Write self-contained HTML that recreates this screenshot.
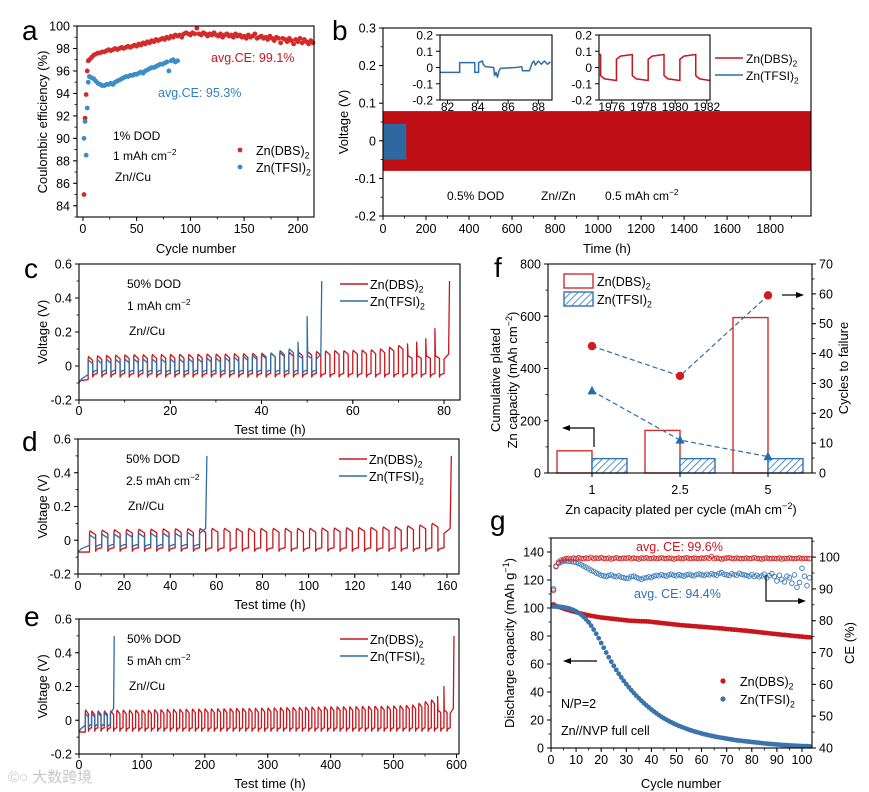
<!DOCTYPE html>
<html><head><meta charset="utf-8"><title>Zn electrolyte figure</title>
<style>
html,body{margin:0;padding:0;background:#fff;}
svg{display:block;font-family:"Liberation Sans","Noto Sans CJK SC",sans-serif;}
</style></head>
<body>
<svg id="fig" width="869" height="792" viewBox="0 0 869 792" xmlns="http://www.w3.org/2000/svg">
<defs>
<pattern id="hatch" patternUnits="userSpaceOnUse" width="5" height="5" patternTransform="rotate(45)">
<rect width="5" height="5" fill="#fff"/>
<line x1="0" y1="0" x2="0" y2="5" stroke="#2e75b6" stroke-width="1.6"/>
</pattern>
</defs>
<text x="8" y="782" font-size="15" fill="#c8c8c8">©○ 大数跨境</text>
</svg>
<script>
// ---------------- DATA ----------------
// panel a
const aDbsEarlyCycles=[1,2,3,4,5];
const aDbsEarly=[85,91.8,93.9,96,96.9];
const aDbsStart=6, aDbsStep=2;
const aDbsCE=[97.0,97.2,97.4,97.5,97.6,97.6,97.7,97.7,97.8,97.9,97.8,97.9,98.0,97.9,98.0,98.1,98.0,98.1,98.2,98.1,98.2,98.3,98.2,98.4,98.3,98.5,98.4,98.6,98.5,98.7,98.6,98.8,98.7,98.8,98.9,98.8,99.0,98.9,99.1,99.0,99.2,99.1,99.2,99.0,99.3,99.4,99.3,99.2,99.4,99.3,99.8,99.3,99.2,99.4,99.3,99.1,99.3,99.2,99.4,99.2,99.1,99.3,99.0,99.2,99.3,99.1,99.2,99.0,99.3,99.1,99.2,99.0,99.1,98.9,99.2,99.0,99.1,99.3,98.9,99.0,99.1,98.9,99.0,98.8,99.1,98.9,98.7,99.0,98.9,98.5,98.9,98.8,98.6,98.9,98.7,98.4,98.8,98.6,98.9,98.5,98.8,98.6,98.4,98.7,98.5];
const aTfsiEarlyCycles=[1,2,3,4,5];
const aTfsiEarly=[90,91.5,88.5,92.7,95.0];
const aTfsiStart=6, aTfsiStep=2;
const aTfsiCE=[95.5,95.4,95.3,95.1,94.9,94.8,94.7,94.7,94.8,94.8,94.9,94.8,95.0,95.1,95.2,95.3,95.4,95.5,95.5,95.6,95.6,95.7,95.7,95.8,95.9,95.8,96.0,96.1,96.2,96.3,96.3,96.4,96.5,96.6,96.6,96.7,96.8,96.0,96.9,97.0,96.8,96.9];
const aXTicks=[0,50,100,150,200];
const aYTicks=[84,86,88,90,92,94,96,98,100];
// panel b
const bDbsRange=[-0.08,0.079]; const bDbsEnd=1990;
const bTfsiRange=[-0.05,0.045]; const bTfsiEnd=108;
const bXTicks=[0,200,400,600,800,1000,1200,1400,1600,1800];
const bYTicks=[-0.2,-0.1,0,0.1,0.2,0.3];
const bYLabels=['-0.2','-0.1','0','0.1','0.2','0.3'];
const inset1T=[81.5,82.8,82.8,83.8,83.8,84.05,84.05,84.3,84.35,84.45,84.5,85.05,85.1,85.2,85.3,85.4,85.5,86.5,86.9,86.95,87.4,87.45,87.6,87.7,87.8,88.0,88.2,88.4,88.6,88.8];
const inset1V=[-0.03,-0.03,0.03,0.03,-0.03,-0.03,0.03,0.04,0.02,0.01,0.005,0.0,-0.05,-0.03,-0.06,-0.02,-0.005,0.0,0.005,-0.02,-0.02,-0.01,0.03,0.04,0.015,0.04,0.02,0.04,0.02,0.035];
const inset2Switch=[1975.3,1976.3,1977.3,1978.3,1979.3,1980.3,1981.3];
const inset1XTicks=[82,84,86,88];
const inset2XTicks=[1976,1978,1980,1982];
const insetYTicks=[-0.2,-0.1,0,0.1,0.2];
const insetYLabels=['-0.2','-0.1','0','0.1','0.2'];
// panel c
const cDbsPeaks=[0.055,0.06,0.062,0.064,0.065,0.066,0.066,0.067,0.067,0.068,0.068,0.068,0.069,0.07,0.07,0.07,0.072,0.072,0.074,0.075,0.076,0.078,0.08,0.082,0.085,0.085,0.088,0.09,0.09,0.092,0.093,0.095,0.1,0.11,0.12,0.13,0.14,0.16,0.22,0.5];
const cTfsiPeaks=[0.035,0.035,0.038,0.038,0.04,0.04,0.04,0.04,0.04,0.04,0.04,0.042,0.042,0.045,0.045,0.048,0.05,0.055,0.06,0.065,0.075,0.09,0.1,0.14,0.29,0.5];
const cXTicks=[0,20,40,60,80];
// panel d
const dDbsPeaks=[0.055,0.06,0.062,0.064,0.065,0.066,0.067,0.068,0.068,0.069,0.07,0.07,0.07,0.07,0.07,0.07,0.07,0.07,0.07,0.072,0.072,0.074,0.075,0.076,0.078,0.08,0.085,0.09,0.1,0.5];
const dTfsiPeaks=[0.03,0.035,0.035,0.04,0.04,0.04,0.04,0.04,0.045,0.5];
const dXTicks=[0,20,40,60,80,100,120,140,160];
// panel e
const eDbsPeaks=[0.06,0.055,0.055,0.055,0.055,0.06,0.06,0.06,0.06,0.06,0.06,0.062,0.062,0.064,0.064,0.065,0.065,0.066,0.066,0.067,0.067,0.068,0.068,0.069,0.07,0.07,0.07,0.071,0.072,0.072,0.073,0.074,0.075,0.075,0.076,0.077,0.078,0.078,0.079,0.08,0.08,0.08,0.08,0.081,0.082,0.082,0.083,0.083,0.084,0.085,0.086,0.088,0.09,0.1,0.11,0.12,0.14,0.2,0.5];
const eTfsiPeaks=[0.04,0.04,0.045,0.045,0.5];
const eXTicks=[0,100,200,300,400,500,600];
const vYTicks=[-0.2,0,0.2,0.4,0.6];
const vYLabels=['-0.2','0','0.2','0.4','0.6'];
// panel f
const fCategories=['1','2.5','5'];
const fDbsCum=[85,163,595];
const fTfsiCum=[55,55,55];
const fDbsCycles=[42.5,32.5,59.5];
const fTfsiCycles=[27.5,11,5.5];
const fLeftTicks=[0,200,400,600,800];
const fRightTicks=[0,10,20,30,40,50,60,70];
// panel g
const gCapDbs=[102.5,101.5,100.8,100.2,99.6,99.0,98.5,98.0,97.5,97.0,96.5,96.0,95.6,95.2,94.8,94.4,94.1,93.8,93.5,93.2,93.0,92.8,92.6,92.4,92.2,92.0,91.8,91.6,91.4,91.2,91.0,90.9,90.8,90.7,90.6,90.5,90.5,90.4,90.3,90.1,89.9,89.7,89.5,89.3,89.1,88.9,88.7,88.5,88.3,88.1,87.9,87.7,87.6,87.4,87.3,87.1,87.0,86.9,86.7,86.6,86.4,86.3,86.1,86.0,85.8,85.7,85.5,85.4,85.2,85.0,84.9,84.7,84.5,84.4,84.2,84.0,83.9,83.7,83.5,83.3,83.1,82.9,82.7,82.5,82.3,82.1,81.9,81.7,81.5,81.3,81.1,80.9,80.8,80.6,80.4,80.2,80.0,79.9,79.7,79.5,79.4,79.2,79.1,79.0,78.9];
const gCapTfsi=[101,101,101,100.8,100.5,100.2,99.8,99.2,98.5,97.6,96.5,95.2,93.6,91.8,89.8,87.4,84.6,81.6,78.4,75.0,71.6,68.2,64.9,61.7,58.7,55.8,53.0,50.4,47.9,45.6,43.4,41.3,39.3,37.4,35.6,33.8,32.1,30.5,29.0,27.5,26.1,24.8,23.5,22.3,21.2,20.2,19.2,18.3,17.4,16.6,15.8,15.1,14.4,13.7,13.1,12.5,11.9,11.4,10.9,10.4,9.9,9.5,9.1,8.7,8.3,7.9,7.6,7.3,7.0,6.7,6.4,6.1,5.8,5.5,5.3,5.1,4.9,4.7,4.5,4.3,4.1,3.9,3.7,3.5,3.3,3.1,2.9,2.8,2.6,2.5,2.4,2.2,2.1,2.0,1.9,1.8,1.7,1.6,1.5,1.4,1.3,1.3,1.2,1.2,1.1];
const gCeDbs=[89.6,97.2,98.4,99.0,99.3,99.5,99.6,99.4,99.7,99.5,99.8,99.6,99.5,99.7,99.6,99.9,99.5,99.7,99.6,99.8,99.6,99.5,99.7,99.4,99.6,99.8,99.6,99.5,99.7,99.6,99.8,99.5,99.7,99.6,99.4,99.7,99.6,99.8,99.5,99.6,99.7,99.5,99.6,99.8,99.6,99.5,99.7,99.6,99.4,99.6,99.7,99.5,99.6,99.8,99.6,99.5,99.7,99.6,99.5,99.7,99.6,99.8,99.6,100.2,99.5,99.7,99.6,99.4,99.6,99.7,99.8,99.6,99.5,99.7,99.6,99.5,99.6,99.7,99.5,99.6,99.8,99.6,99.5,99.4,99.6,99.7,99.5,99.6,99.6,99.5,99.7,99.4,99.6,99.5,99.7,99.6,99.5,99.6,99.7,99.5,99.6,99.6,99.5,99.7,99.6];
const gCeTfsi=[90.0,97.0,98.0,98.4,98.7,98.8,98.7,98.6,98.5,98.3,98.0,97.6,97.2,96.8,96.3,95.9,95.5,95.0,94.7,94.3,94.1,93.9,94.2,94.4,94.0,93.8,94.1,93.7,93.5,93.3,93.4,93.9,94.0,93.6,93.3,93.0,93.4,93.5,93.8,93.6,94.0,94.3,94.1,94.5,94.2,94.0,94.4,94.6,94.3,94.1,94.5,94.2,94.0,94.4,94.6,94.3,94.1,94.5,94.7,94.4,94.2,94.6,94.4,94.8,94.5,94.3,94.9,95.1,94.6,94.4,94.2,94.8,94.5,94.3,94.9,94.6,94.4,94.2,94.0,94.5,93.9,94.3,93.8,94.1,94.6,93.5,94.2,94.8,93.9,92.5,94.3,93.0,92.2,94.0,93.5,91.8,94.4,90.5,92.0,96.5,94.0,91.0,93.5,95.0,92.0];
const gXTicks=[0,10,20,30,40,50,60,70,80,90,100];
const gLeftTicks=[0,20,40,60,80,100,120,140];
const gRightTicks=[40,50,60,70,80,90,100];

// ---------------- DRAWING ----------------
const NS='http://www.w3.org/2000/svg';
const svg=document.getElementById('fig');
const RED='#c8161d', BLUE='#2e6ea6';
function mk(tag,attrs,name,parent){
  const el=document.createElementNS(NS,tag);
  for(const k in attrs) el.setAttribute(k,attrs[k]);
  
  
  (parent||svg).appendChild(el);
  return el;
}
function lin(d0,d1,r0,r1){return v=>r0+(v-d0)*(r1-r0)/(d1-d0);}
function text(x,y,s,o,name){
  o=o||{};const size=o.size||12.5;
  const at={x:x,y:y,'font-size':size,'text-anchor':o.anchor||'start',fill:o.fill||'#000'};
  if(o.rot) at.transform='rotate(-90 '+x+' '+y+')';
  const t=mk('text',at,name);
  const parts=s.split(/(_\{[^}]*\}|\^\{[^}]*\})/);
  let shift=0;
  parts.forEach(p=>{
    if(!p) return;
    const ts=document.createElementNS(NS,'tspan');
    if(p[0]==='_'||p[0]==='^'){
      const d=p[0]==='_'?3.5:-5;
      ts.setAttribute('dy',d);ts.setAttribute('font-size',size*0.7);
      ts.textContent=p.slice(2,-1);shift=d;
    } else {
      if(shift){ts.setAttribute('dy',-shift);shift=0;}
      ts.textContent=p;
    }
    t.appendChild(ts);
  });
  return t;
}
function frame(b,name){mk('rect',{x:b.x0,y:b.y0,width:b.x1-b.x0,height:b.y1-b.y0,fill:'none',stroke:'#000','stroke-width':1.1},name);}
function xAxis(b,sc,ticks,labels,minorStep,ly,name,size){
  ticks.forEach((t,i)=>{const x=sc(t);
    mk('line',{x1:x,x2:x,y1:b.y1,y2:b.y1+4,stroke:'#000','stroke-width':1},name+'-tick');
    text(x,ly,String(labels[i]),{anchor:'middle',size:size||12.5},name+'-tick-label');});
  if(minorStep){const hi=ticks[ticks.length-1];
    for(let t=ticks[0]-minorStep*20;t<=hi+minorStep*20;t+=minorStep){const x=sc(t);
      if(x<b.x0-0.1||x>b.x1+0.1) continue;
      mk('line',{x1:x,x2:x,y1:b.y1,y2:b.y1+2.5,stroke:'#000','stroke-width':0.8},name+'-minor-tick');}}
}
function yAxis(b,sc,ticks,labels,minorStep,name,right,size){
  const x0=right?b.x1:b.x0, dir=right?1:-1;
  ticks.forEach((t,i)=>{const y=sc(t);
    mk('line',{x1:x0,x2:x0+4*dir,y1:y,y2:y,stroke:'#000','stroke-width':1},name+'-tick');
    text(x0+7*dir,y+4.5,String(labels[i]),{anchor:right?'start':'end',size:size||12.5},name+'-tick-label');});
  if(minorStep){for(let t=ticks[0]-minorStep*20;t<=ticks[ticks.length-1]+minorStep*20;t+=minorStep){const y=sc(t);
      if(y<b.y0-0.1||y>b.y1+0.1) continue;
      mk('line',{x1:x0,x2:x0+2.5*dir,y1:y,y2:y,stroke:'#000','stroke-width':0.8},name+'-minor-tick');}}
}
function poly(pts,stroke,name,sw){return mk('polyline',{points:pts.map(p=>p[0].toFixed(2)+','+p[1].toFixed(2)).join(' '),fill:'none',stroke:stroke,'stroke-width':sw||1.2,'stroke-linejoin':'round'},name);}
function letter(x,y,s){text(x,y,s,{size:28},'panel-letter-'+s);}

// ===== Panel a =====
(function(){
  const b={x0:77,x1:314,y0:26,y1:217};
  const xs=lin(-5.5,215,b.x0,b.x1), ys=lin(83,100,b.y1,b.y0);
  letter(22,40,'a');
  const dot=(c,v,col,nm)=>{if(xs(c)>b.x1-1) return; mk('circle',{cx:xs(c),cy:ys(v),r:2.4,fill:col},nm);};
  aDbsEarlyCycles.forEach((c,i)=>dot(c,aDbsEarly[i],'#d42a2a','dbs-ce-point'));
  aDbsCE.forEach((v,i)=>dot(aDbsStart+i*aDbsStep,v,'#d42a2a','dbs-ce-point'));
  aTfsiEarlyCycles.forEach((c,i)=>dot(c,aTfsiEarly[i],'#3c8cc8','tfsi-ce-point'));
  aTfsiCE.forEach((v,i)=>dot(aTfsiStart+i*aTfsiStep,v,'#3c8cc8','tfsi-ce-point'));
  frame(b,'panel-a-frame');
  xAxis(b,xs,aXTicks,aXTicks,25,233,'panel-a-x-axis');
  yAxis(b,ys,aYTicks,aYTicks,1,'panel-a-y-axis');
  text(196,253,'Cycle number',{anchor:'middle',size:13},'panel-a-x-title');
  text(47,122,'Coulombic efficiency (%)',{anchor:'middle',size:13,rot:true},'panel-a-y-title');
  text(211,62,'avg.CE: 99.1%',{fill:RED,size:12.5},'avg-ce-dbs');
  text(158,97,'avg.CE: 95.3%',{fill:'#2f7fc0',size:12.5},'avg-ce-tfsi');
  text(113,140,'1% DOD',{size:12},'dod-label');
  text(113,160,'1 mAh cm^{−2}',{size:12},'capacity-label');
  text(115,181,'Zn//Cu',{size:12},'cell-label');
  mk('circle',{cx:240,cy:150,r:2.4,fill:'#d42a2a'},'legend-dbs-marker');
  mk('circle',{cx:240,cy:167,r:2.4,fill:'#3c8cc8'},'legend-tfsi-marker');
  text(256,155,'Zn(DBS)_{2}',{size:12.5},'legend-dbs');
  text(256,172,'Zn(TFSI)_{2}',{size:12.5},'legend-tfsi');
})();

// ===== Panel b =====
(function(){
  const b={x0:383,x1:811,y0:28,y1:216};
  const xs=lin(0,1990,b.x0,b.x1), ys=lin(-0.2,0.3,b.y1,b.y0);
  letter(332,40,'b');
  mk('rect',{x:xs(0),y:ys(bDbsRange[1]),width:xs(bDbsEnd)-xs(0),height:ys(bDbsRange[0])-ys(bDbsRange[1]),fill:'#c00f14'},'dbs-voltage-band');
  mk('rect',{x:xs(0),y:ys(bTfsiRange[1]),width:xs(bTfsiEnd)-xs(0),height:ys(bTfsiRange[0])-ys(bTfsiRange[1]),fill:'#2d68a0'},'tfsi-voltage-band');
  frame(b,'panel-b-frame');
  xAxis(b,xs,bXTicks,bXTicks,100,233,'panel-b-x-axis');
  yAxis(b,ys,bYTicks,bYLabels,0.05,'panel-b-y-axis');
  text(607,253,'Time (h)',{anchor:'middle',size:13},'panel-b-x-title');
  text(348,122,'Voltage (V)',{anchor:'middle',size:13,rot:true},'panel-b-y-title');
  text(447,200,'0.5% DOD',{size:12},'dod-label');
  text(541,200,'Zn//Zn',{size:12},'cell-label');
  text(605,200,'0.5 mAh cm^{−2}',{size:12},'capacity-label');
  const i1={x0:440,x1:552,y0:35,y1:100};
  mk('rect',{x:i1.x0,y:i1.y0,width:i1.x1-i1.x0,height:i1.y1-i1.y0,fill:'#fff'},'inset-tfsi-bg');
  const ix1=lin(81.5,88.9,i1.x0,i1.x1), iy=lin(-0.2,0.2,i1.y1,i1.y0);
  poly(inset1T.map((t,i)=>[ix1(t),iy(inset1V[i])]),BLUE,'inset-tfsi-line',1.5);
  frame(i1,'inset-tfsi-frame');
  xAxis(i1,ix1,inset1XTicks,inset1XTicks,0,111,'inset-tfsi-x-axis',12);
  yAxis(i1,iy,insetYTicks,insetYLabels,0,'inset-tfsi-y-axis',false,12);
  const i2={x0:599,x1:710,y0:35,y1:100};
  mk('rect',{x:i2.x0,y:i2.y0,width:i2.x1-i2.x0,height:i2.y1-i2.y0,fill:'#fff'},'inset-dbs-bg');
  const ix2=lin(1975.2,1982.2,i2.x0,i2.x1);
  const pts=[[ix2(1975.2),iy(0.08)]];
  let pos=true;
  inset2Switch.forEach(sw=>{
    if(pos){pts.push([ix2(sw),iy(0.08)]);pts.push([ix2(sw),iy(-0.05)]);pts.push([ix2(sw+0.25),iy(-0.07)]);}
    else {pts.push([ix2(sw),iy(-0.08)]);pts.push([ix2(sw),iy(0.05)]);pts.push([ix2(sw+0.25),iy(0.07)]);}
    pos=!pos;
  });
  pts.push([ix2(1982.2),iy(-0.08)]);
  poly(pts,RED,'inset-dbs-line',1.5);
  frame(i2,'inset-dbs-frame');
  xAxis(i2,ix2,inset2XTicks,inset2XTicks,0,111,'inset-dbs-x-axis',12);
  yAxis(i2,iy,insetYTicks,insetYLabels,0,'inset-dbs-y-axis',false,12);
  mk('line',{x1:715,x2:743,y1:58,y2:58,stroke:RED,'stroke-width':1.6},'legend-dbs-line');
  mk('line',{x1:715,x2:743,y1:75,y2:75,stroke:BLUE,'stroke-width':1.6},'legend-tfsi-line');
  text(746,63,'Zn(DBS)_{2}',{size:12},'legend-dbs');
  text(746,80,'Zn(TFSI)_{2}',{size:12},'legend-tfsi');
})();

// ===== Voltage profile panels c, d, e =====
function profile(xs,ys,t0,P,peaks,plate,init0,init1){
  const pts=[[xs(0),ys(init0)],[xs(t0*0.3),ys((init0+init1)/2)],[xs(t0),ys(init1)]];
  const n=peaks.length;
  for(let i=0;i<n;i++){
    const t=t0+i*P, pk=peaks[i];
    if(i===n-1){
      pts.push([xs(t),ys(0.04)]);pts.push([xs(t+0.5*P),ys(0.07)]);pts.push([xs(t+0.6*P),ys(pk)]);break;
    }
    if(pk>0.12){
      pts.push([xs(t),ys(pk)]);pts.push([xs(t+0.06*P),ys(0.06)]);pts.push([xs(t+0.5*P),ys(0.045)]);
    } else {
      pts.push([xs(t),ys(pk-0.012)]);pts.push([xs(t+0.05*P),ys(pk)]);
      pts.push([xs(t+0.25*P),ys(pk-0.01)]);pts.push([xs(t+0.5*P),ys(pk-0.022)]);
    }
    pts.push([xs(t+0.5*P),ys(plate)]);
    pts.push([xs(t+0.6*P),ys(plate+0.012)]);pts.push([xs(t+0.8*P),ys(plate+0.018)]);pts.push([xs(t+P),ys(plate+0.02)]);
  }
  return pts;
}
function vPanel(cfg){
  const b=cfg.b;
  const xs=lin(0,cfg.xmax,b.x0,b.x1), ys=lin(-0.2,0.6,b.y1,b.y0);
  letter(cfg.lx,cfg.ly,cfg.letter);
  poly(profile(xs,ys,cfg.t0,cfg.P,cfg.dbs,-0.065,cfg.di0,cfg.di1),RED,'dbs-voltage-line',1.3);
  poly(profile(xs,ys,cfg.t0,cfg.P,cfg.tfsi,-0.045,cfg.ti0,cfg.ti1),BLUE,'tfsi-voltage-line',1.3);
  frame(b,'panel-'+cfg.letter+'-frame');
  xAxis(b,xs,cfg.xt,cfg.xt,cfg.xminor,cfg.xly,'panel-'+cfg.letter+'-x-axis');
  yAxis(b,ys,vYTicks,vYLabels,0.1,'panel-'+cfg.letter+'-y-axis');
  text(270,cfg.xly+19,'Test time (h)',{anchor:'middle',size:13},'panel-'+cfg.letter+'-x-title');
  text(47,(b.y0+b.y1)/2,'Voltage (V)',{anchor:'middle',size:13,rot:true},'panel-'+cfg.letter+'-y-title');
  text(b.x0+48,b.y0+24,'50% DOD',{size:12},'dod-label');
  text(b.x0+48,b.y0+46,cfg.cap,{size:12},'capacity-label');
  text(b.x0+50,b.y0+71,'Zn//Cu',{size:12},'cell-label');
  mk('line',{x1:b.x0+261,x2:b.x0+289,y1:b.y0+20,y2:b.y0+20,stroke:RED,'stroke-width':1.6},'legend-dbs-line');
  mk('line',{x1:b.x0+261,x2:b.x0+289,y1:b.y0+37,y2:b.y0+37,stroke:BLUE,'stroke-width':1.6},'legend-tfsi-line');
  text(b.x0+291,b.y0+25,'Zn(DBS)_{2}',{size:12.5},'legend-dbs');
  text(b.x0+291,b.y0+42,'Zn(TFSI)_{2}',{size:12.5},'legend-tfsi');
}
vPanel({letter:'c',b:{x0:79,x1:460,y0:264,y1:400},xmax:83.5,t0:2,P:2,dbs:cDbsPeaks,tfsi:cTfsiPeaks,di0:-0.09,di1:-0.08,ti0:-0.1,ti1:-0.05,xt:cXTicks,xminor:10,xly:415,lx:24,ly:278,cap:'1 mAh cm^{−2}'});
vPanel({letter:'d',b:{x0:78,x1:459,y0:439,y1:574},xmax:165.2,t0:5,P:5.3,dbs:dDbsPeaks,tfsi:dTfsiPeaks,di0:-0.07,di1:-0.07,ti0:-0.07,ti1:-0.03,xt:dXTicks,xminor:10,xly:590,lx:22,ly:451,cap:'2.5 mAh cm^{−2}'});
vPanel({letter:'e',b:{x0:79,x1:459,y0:619,y1:754},xmax:604,t0:10,P:10,dbs:eDbsPeaks,tfsi:eTfsiPeaks,di0:-0.07,di1:-0.07,ti0:-0.07,ti1:-0.03,xt:eXTicks,xminor:50,xly:769,lx:24,ly:626,cap:'5 mAh cm^{−2}'});

// ===== Panel f =====
(function(){
  const b={x0:548,x1:812,y0:264,y1:473};
  const yl=lin(0,800,b.y1,b.y0), yr=lin(0,70,b.y1,b.y0);
  const band=(b.x1-b.x0)/fCategories.length;
  const xc=i=>b.x0+(i+0.5)*band;
  letter(494,277,'f');
  fCategories.forEach((c,i)=>{
    mk('rect',{x:xc(i)-35,y:yl(fDbsCum[i]),width:35,height:yl(0)-yl(fDbsCum[i]),fill:'#fff',stroke:'#d42a2a','stroke-width':1.4},'bar-dbs-'+c);
    mk('rect',{x:xc(i),y:yl(fTfsiCum[i]),width:35,height:yl(0)-yl(fTfsiCum[i]),fill:'url(#hatch)',stroke:'#2e75b6','stroke-width':1.4},'bar-tfsi-'+c);
  });
  mk('polyline',{points:fCategories.map((c,i)=>xc(i)+','+yr(fDbsCycles[i])).join(' '),fill:'none',stroke:'#2e6ea6','stroke-width':1.2,'stroke-dasharray':'5,3'},'dbs-cycles-line');
  mk('polyline',{points:fCategories.map((c,i)=>xc(i)+','+yr(fTfsiCycles[i])).join(' '),fill:'none',stroke:'#2e6ea6','stroke-width':1.2,'stroke-dasharray':'5,3'},'tfsi-cycles-line');
  fCategories.forEach((c,i)=>{
    mk('circle',{cx:xc(i),cy:yr(fDbsCycles[i]),r:4.2,fill:'#d01c1c'},'dbs-cycles-point');
    const x=xc(i),y=yr(fTfsiCycles[i]);
    mk('polygon',{points:(x)+','+(y-5)+' '+(x-4.5)+','+(y+3.5)+' '+(x+4.5)+','+(y+3.5),fill:'#1f6fb0'},'tfsi-cycles-point');
  });
  mk('rect',{x:b.x0,y:b.y0,width:b.x1-b.x0,height:b.y1-b.y0,fill:'none',stroke:'#000','stroke-width':1.1},'panel-f-frame');
  fCategories.forEach((c,i)=>{mk('line',{x1:xc(i),x2:xc(i),y1:b.y1,y2:b.y1+4,stroke:'#000'},'panel-f-x-tick');
    text(xc(i),494,c,{anchor:'middle',size:12.5},'panel-f-x-tick-label');});
  yAxis(b,yl,fLeftTicks,fLeftTicks,100,'panel-f-left-axis');
  yAxis(b,yr,fRightTicks,fRightTicks,5,'panel-f-right-axis',true);
  text(681,514,'Zn capacity plated per cycle (mAh cm^{−2})',{anchor:'middle',size:13},'panel-f-x-title');
  text(500,380,'Cumulative plated',{anchor:'middle',size:13,rot:true},'panel-f-y-title-1');
  text(517,380,'Zn capacity (mAh cm^{−2})',{anchor:'middle',size:13,rot:true},'panel-f-y-title-2');
  text(848,368,'Cycles to failure',{anchor:'middle',size:13,rot:true},'panel-f-right-title');
  mk('rect',{x:564,y:274,width:29,height:14,fill:'#fff',stroke:'#d42a2a','stroke-width':1.4},'legend-dbs-swatch');
  mk('rect',{x:564,y:292,width:29,height:14,fill:'url(#hatch)',stroke:'#2e75b6','stroke-width':1.4},'legend-tfsi-swatch');
  text(597,286,'Zn(DBS)_{2}',{size:12.5},'legend-dbs');
  text(597,304,'Zn(TFSI)_{2}',{size:12.5},'legend-tfsi');
  mk('polyline',{points:'594,447 594,428 568,428',fill:'none',stroke:'#000','stroke-width':1.2},'left-axis-arrow');
  mk('polygon',{points:'562,428 570,425 570,431',fill:'#000'},'left-arrow-head');
  mk('line',{x1:782,x2:798,y1:295,y2:295,stroke:'#000','stroke-width':1.2},'right-axis-arrow');
  mk('polygon',{points:'804,295 796,292 796,298',fill:'#000'},'right-arrow-head');
})();

// ===== Panel g =====
(function(){
  const b={x0:551,x1:812,y0:538,y1:748};
  const xs=lin(0,104,b.x0,b.x1), yl=lin(0,150,b.y1,b.y0), yr=lin(40,106,b.y1,b.y0);
  letter(490,530,'g');
  gCeTfsi.forEach((v,i)=>{const x=xs(i+1);if(x>b.x1-1)return;mk('circle',{cx:x,cy:yr(v),r:2.3,fill:'none',stroke:'#3a7ab8','stroke-width':0.9},'tfsi-ce-point');});
  gCeDbs.forEach((v,i)=>{const x=xs(i+1);if(x>b.x1-1)return;mk('circle',{cx:x,cy:yr(v),r:2.3,fill:'none',stroke:'#d42a2a','stroke-width':0.9},'dbs-ce-point');});
  gCapDbs.forEach((v,i)=>{const x=xs(i+1);if(x>b.x1-1)return;mk('circle',{cx:x,cy:yl(v),r:2.4,fill:'#c8161d'},'dbs-capacity-point');});
  gCapTfsi.forEach((v,i)=>{const x=xs(i+1);if(x>b.x1-1)return;mk('circle',{cx:x,cy:yl(v),r:2.4,fill:'#3a74ad'},'tfsi-capacity-point');});
  frame(b,'panel-g-frame');
  xAxis(b,xs,gXTicks,gXTicks,5,764,'panel-g-x-axis');
  yAxis(b,yl,gLeftTicks,gLeftTicks,10,'panel-g-left-axis');
  yAxis(b,yr,gRightTicks,gRightTicks,5,'panel-g-right-axis',true);
  text(681,788,'Cycle number',{anchor:'middle',size:13},'panel-g-x-title');
  text(514,643,'Discharge capacity (mAh g^{−1})',{anchor:'middle',size:13,rot:true},'panel-g-y-title');
  text(854,643,'CE (%)',{anchor:'middle',size:13,rot:true},'panel-g-right-title');
  text(636,551,'avg. CE: 99.6%',{fill:RED,size:12.5},'avg-ce-dbs');
  text(634,598,'avg. CE: 94.4%',{fill:'#2f6fb0',size:12.5},'avg-ce-tfsi');
  text(561,708,'N/P=2',{size:12.5},'np-ratio-label');
  text(561,735,'Zn//NVP full cell',{size:12.5},'cell-label');
  mk('circle',{cx:723,cy:681,r:2.6,fill:'#c8161d'},'legend-dbs-marker');
  mk('circle',{cx:723,cy:699,r:2.6,fill:'#3a74ad'},'legend-tfsi-marker');
  text(740,686,'Zn(DBS)_{2}',{size:12.5},'legend-dbs');
  text(740,704,'Zn(TFSI)_{2}',{size:12.5},'legend-tfsi');
  mk('line',{x1:597,x2:569,y1:661,y2:661,stroke:'#000','stroke-width':1.2},'left-axis-arrow');
  mk('polygon',{points:'563,661 571,658 571,664',fill:'#000'},'left-arrow-head');
  mk('polyline',{points:'766,575 766,601 800,601',fill:'none',stroke:'#000','stroke-width':1.2},'right-axis-arrow');
  mk('polygon',{points:'806,601 798,598 798,604',fill:'#000'},'right-arrow-head');
})();
</script>
</body></html>
